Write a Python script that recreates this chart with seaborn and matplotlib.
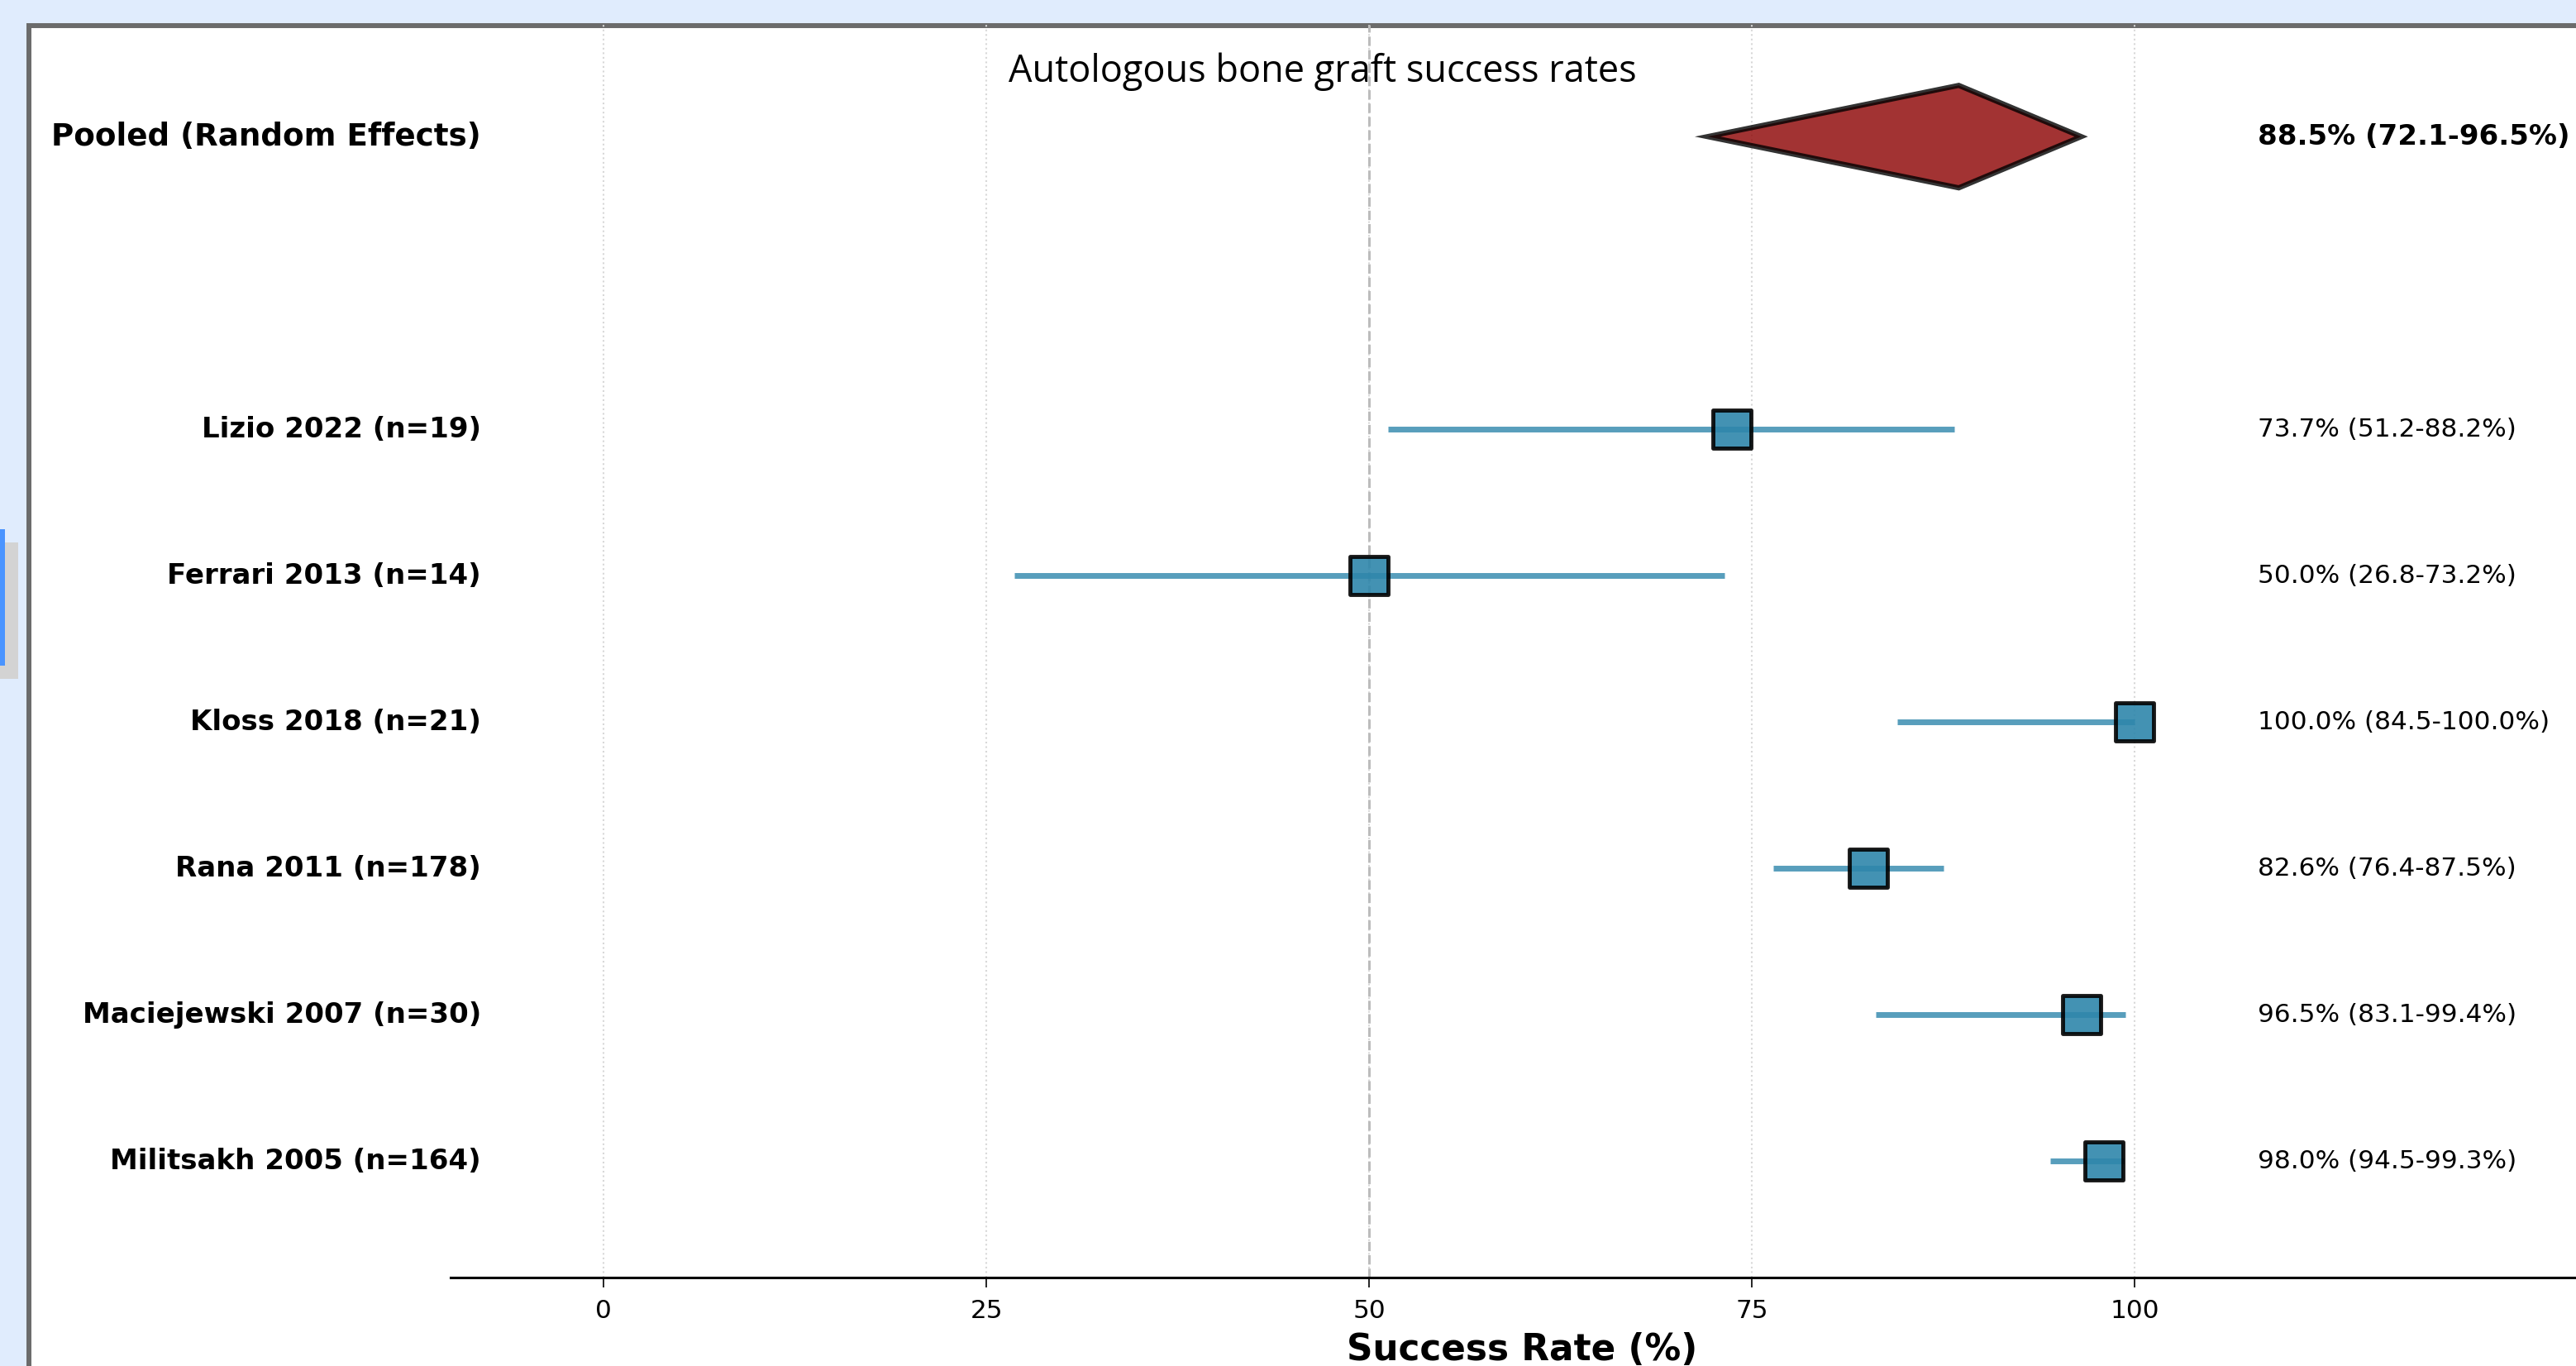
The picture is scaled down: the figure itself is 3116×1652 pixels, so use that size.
import numpy as np
import pandas as pd
import matplotlib
matplotlib.use("Agg")
import matplotlib.pyplot as plt
from matplotlib.patches import Rectangle
import seaborn as sns

# study rows, top to bottom as shown
studies = ["Lizio 2022 (n=19)", "Ferrari 2013 (n=14)", "Kloss 2018 (n=21)",
           "Rana 2011 (n=178)", "Maciejewski 2007 (n=30)", "Militsakh 2005 (n=164)"]
rates = [73.7, 50.0, 100.0, 82.6, 96.5, 98.0]
ci_low = [51.2, 26.8, 84.5, 76.4, 83.1, 94.5]
ci_high = [88.2, 73.2, 100.0, 87.5, 99.4, 99.3]

pooled_label = "Pooled (Random Effects)"
pooled_rate = 88.5
pooled_low = 72.1
pooled_high = 96.5

x_ticks = [0, 25, 50, 75, 100]
title = "Autologous bone graft success rates"

W, H = 3116, 1652
sns.set_style("white")
plt.rcParams['font.family'] = ['DejaVu Sans']
plt.rcParams['text.color'] = 'black'
plt.rcParams['axes.labelcolor'] = 'black'

fig = plt.figure(figsize=(W / 100, H / 100), dpi=100, facecolor='#e0ecfd')

# window frame around the figure (screenshot look)
frame = Rectangle((35 / W, -0.1), 1.2, (H - 31) / H + 0.1, transform=fig.transFigure,
                  facecolor='white', edgecolor='#6b6b6b', lw=4.3, zorder=-2)
fig.patches.append(frame)
fig.patches.append(Rectangle((0, 1 - 821 / H), 22 / W, 165 / H, transform=fig.transFigure,
                             facecolor='#d3d3d3', edgecolor='none', zorder=-1))
fig.patches.append(Rectangle((0, 1 - 805 / H), 6 / W, 165 / H, transform=fig.transFigure,
                             facecolor='#4a94ff', edgecolor='none', zorder=-1))

ax = fig.add_axes([545 / W, (H - 1545) / H, (3138 - 545) / W, (1545 - 30) / H])
ax.patch.set_facecolor('none')

df = pd.DataFrame({'study': studies, 'rate': rates, 'lo': ci_low, 'hi': ci_high})
df['y'] = np.arange(len(df))[::-1]
pooled_y = len(df) + 1

ax.xaxis.grid(True, linestyle=':', color='#d8d8d8', lw=1.5, zorder=0)
ax.axvline(50, color='#bcbcbc', ls='--', lw=2.2, zorder=1)

ax.hlines(df['y'], df['lo'], df['hi'], color='#2E86AB', alpha=0.8, lw=5, zorder=2)
sns.scatterplot(data=df, x='rate', y='y', marker='s', s=1100, color='#2E86AB', alpha=0.9,
                edgecolor='black', linewidth=3.5, ax=ax, zorder=3, legend=False)

h = 0.35
ax.fill([pooled_low, pooled_rate, pooled_high, pooled_rate],
        [pooled_y, pooled_y + h, pooled_y, pooled_y - h],
        facecolor='darkred', edgecolor='black', alpha=0.8, lw=4.5, zorder=3)

for _, r in df.iterrows():
    ax.text(-8, r['y'], r['study'], ha='right', va='center', fontsize=24.5, fontweight='bold')
    ax.text(108, r['y'], f"{r['rate']:.1f}% ({r['lo']:.1f}-{r['hi']:.1f}%)",
            ha='left', va='center', fontsize=22.4)
ax.text(-8, pooled_y, pooled_label, ha='right', va='center', fontsize=26.8, fontweight='bold')
ax.text(108, pooled_y, f"{pooled_rate:.1f}% ({pooled_low:.1f}-{pooled_high:.1f}%)",
        ha='left', va='center', fontsize=24.5, fontweight='bold')

ax.set_xlim(-10, 130)
ax.set_ylim(-0.796, 7.764)
ax.set_xticks(x_ticks)
ax.set_yticks([])
ax.tick_params(axis='x', bottom=True, length=8.5, width=1.2, labelsize=22.4, pad=10,
               colors='black')
for s in ['top', 'right', 'left']:
    ax.spines[s].set_visible(False)
ax.spines['bottom'].set_color('black')
ax.spines['bottom'].set_linewidth(2.2)
ax.set_xlabel('Success Rate (%)', fontsize=31.5, fontweight='bold', labelpad=8)
ax.set_ylabel('')

fig.text(1600 / W, 1 - 87 / H, title, family=['Open Sans', 'DejaVu Sans'], fontsize=32.5,
         ha='center', va='center')

fig.savefig('out.png', dpi=100, facecolor=fig.get_facecolor())
